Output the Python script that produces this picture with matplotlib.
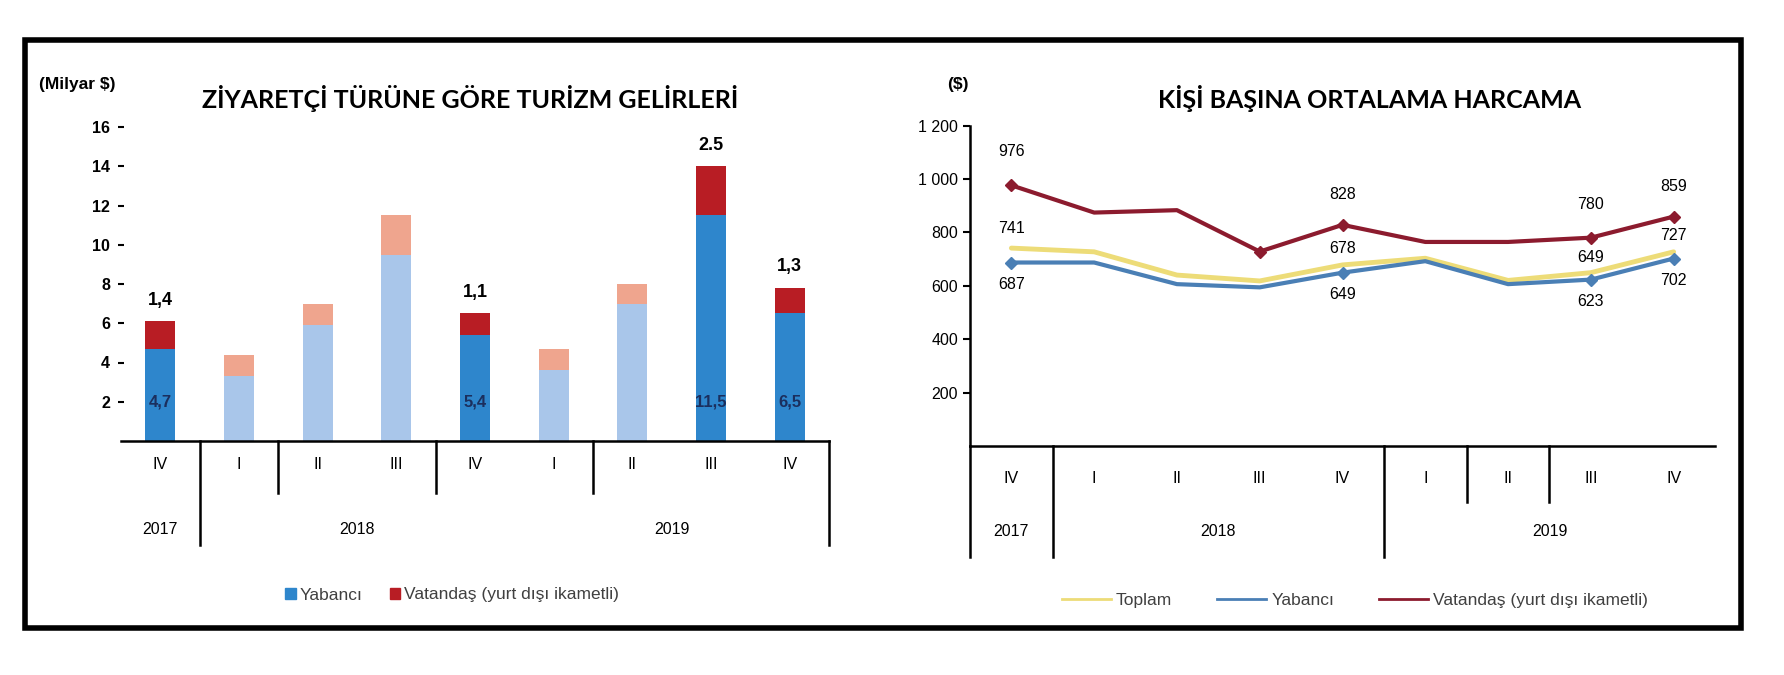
import matplotlib
matplotlib.use("Agg")
import matplotlib.pyplot as plt
from matplotlib.patches import Rectangle, Patch
from matplotlib.lines import Line2D

plt.rcParams['font.family'] = ['Liberation Sans', 'DejaVu Sans']

# ortak kategoriler
quarters = ["IV", "I", "II", "III", "IV", "I", "II", "III", "IV"]
years = ["2017", "2018", "2019"]
year_first = [0, 1, 5]
year_last = [0, 4, 8]

# sol grafik - milyar $
yabanci_gelir = [4.7, 3.3, 5.9, 9.5, 5.4, 3.6, 7.0, 11.5, 6.5]
vatandas_gelir = [1.4, 1.1, 1.1, 2.0, 1.1, 1.1, 1.0, 2.5, 1.3]
vurgu = [True, False, False, False, True, False, False, True, True]
ust_etiket = ["1,4", "", "", "", "1,1", "", "", "2.5", "1,3"]
ic_etiket = ["4,7", "", "", "", "5,4", "", "", "11,5", "6,5"]

# sag grafik - kisi basi $
toplam = [741, 727, 640, 618, 678, 703, 620, 649, 727]
yabanci = [687, 687, 606, 594, 649, 692, 606, 623, 702]
vatandas = [976, 874, 883, 728, 828, 764, 764, 780, 859]
etiket_idx = [0, 4, 7, 8]

W, H = 1784, 675
fig = plt.figure(figsize=(W / 100, H / 100), dpi=100)

def fx(px):
    return px / W

def fy(py):
    return 1 - py / H

# cerceve
fig.patches.append(Rectangle((fx(25), fy(628)), fx(1741) - fx(25), fy(40) - fy(628),
                             transform=fig.transFigure, fill=False, lw=4, ec='black'))

BLUE = '#2E86CC'
RED = '#B81D24'
LBLUE = '#A9C6EA'
LRED = '#EFA58E'

# ---------------- sol grafik
ax1 = fig.add_axes([fx(121), fy(441), fx(829) - fx(121), fy(127) - fy(441)])
x = list(range(len(quarters)))
c1 = [BLUE if v else LBLUE for v in vurgu]
c2 = [RED if v else LRED for v in vurgu]
ax1.bar(x, yabanci_gelir, width=0.38, color=c1)
ax1.bar(x, vatandas_gelir, width=0.38, bottom=yabanci_gelir, color=c2)
ax1.set_xlim(-0.5, 8.5)
ax1.set_ylim(0, 16)
ax1.set_yticks(range(2, 17, 2))
ax1.set_yticklabels([str(v) for v in range(2, 17, 2)], fontsize=11.5, fontweight='bold')
ax1.tick_params(axis='y', length=4, width=1.5, direction='inout', pad=6)
ax1.set_xticks([])
for s in ['top', 'right', 'left']:
    ax1.spines[s].set_visible(False)
ax1.spines['bottom'].set_linewidth(1.8)

for i in x:
    if ust_etiket[i]:
        ax1.annotate(ust_etiket[i], (i, yabanci_gelir[i] + vatandas_gelir[i]),
                     xytext=(0, 9), textcoords='offset points', ha='center', va='bottom',
                     fontsize=13, fontweight='bold')
    if ic_etiket[i]:
        ax1.text(i, 2.0, ic_etiket[i], ha='center', va='center', fontsize=12,
                 fontweight='bold', color='#1B2F5E')

tr1 = ax1.get_xaxis_transform()
for i, q in enumerate(quarters):
    ax1.text(i, -0.076, q, transform=tr1, ha='center', va='center', fontsize=11.5)
for y, a, b in zip(years, year_first, year_last):
    ax1.text((a + b) / 2, -0.283, y, transform=tr1, ha='center', va='center', fontsize=11.5)
for b, bot in [(0.5, -0.331), (1.5, -0.166), (3.5, -0.166), (5.5, -0.166), (8.5, -0.331)]:
    ax1.plot([b, b], [0, bot], transform=tr1, color='black', lw=1.8, clip_on=False)

fig.text(fx(470), fy(99), "ZİYARETÇİ TÜRÜNE GÖRE TURİZM GELİRLERİ", ha='center', va='center',
         fontsize=18, fontweight='bold', family=['Lato', 'DejaVu Sans'])
fig.text(fx(39), fy(84), "(Milyar $)", ha='left', va='center', fontsize=12.5, fontweight='bold')

fig.legend([Patch(color=BLUE), Patch(color=RED)], ["Yabancı", "Vatandaş (yurt dışı ikametli)"],
           loc='center', bbox_to_anchor=(fx(452), fy(595)), ncol=2, frameon=False,
           handlelength=0.6, handleheight=0.6, handletextpad=0.2, columnspacing=1.6,
           fontsize=12.5, labelcolor='#404040')

# ---------------- sag grafik
ax2 = fig.add_axes([fx(970), fy(446), fx(1715) - fx(970), fy(125.5) - fy(446)])
ax2.plot(x, toplam, color='#EDDC78', lw=3.5, solid_capstyle='round')
ax2.plot(x, yabanci, color='#4A7FB5', lw=3, marker='D', markersize=6, markevery=etiket_idx)
ax2.plot(x, vatandas, color='#8C1B2E', lw=3, marker='D', markersize=6, markevery=etiket_idx + [3])
ax2.set_xlim(-0.5, 8.5)
ax2.set_ylim(0, 1200)
ax2.set_yticks(range(200, 1201, 200))
ax2.set_yticklabels(["200", "400", "600", "800", "1 000", "1 200"], fontsize=11.5)
ax2.tick_params(axis='y', length=5, width=1.5, direction='out')
ax2.set_xticks([])
for s in ['top', 'right']:
    ax2.spines[s].set_visible(False)
ax2.spines['bottom'].set_linewidth(1.8)
ax2.spines['left'].set_linewidth(1.8)

ofs_red = {0: 24, 4: 22, 7: 24, 8: 22}
ofs_top = {0: 14, 4: 12, 7: 11, 8: 12}
for i in etiket_idx:
    ax2.annotate(str(vatandas[i]), (i, vatandas[i]), xytext=(0, ofs_red[i]), textcoords='offset points',
                 ha='center', va='center', fontsize=11.5)
    ax2.annotate(str(toplam[i]), (i, toplam[i]), xytext=(0, ofs_top[i]), textcoords='offset points',
                 ha='center', va='center', fontsize=11.5)
    ax2.annotate(str(yabanci[i]), (i, yabanci[i]), xytext=(0, -16), textcoords='offset points',
                 ha='center', va='center', fontsize=11.5)

tr2 = ax2.get_xaxis_transform()
for i, q in enumerate(quarters):
    ax2.text(i, -0.10, q, transform=tr2, ha='center', va='center', fontsize=11.5)
for y, a, b in zip(years, year_first, year_last):
    ax2.text((a + b) / 2, -0.268, y, transform=tr2, ha='center', va='center', fontsize=11.5)
for b, bot in [(-0.5, -0.346), (0.5, -0.346), (4.5, -0.346), (5.5, -0.175), (6.5, -0.175)]:
    ax2.plot([b, b], [0, bot], transform=tr2, color='black', lw=1.8, clip_on=False)

fig.text(fx(1370), fy(99), "KİŞİ BAŞINA ORTALAMA HARCAMA", ha='center', va='center',
         fontsize=18, fontweight='bold', family=['Lato', 'DejaVu Sans'])
fig.text(fx(947), fy(84), "($)", ha='left', va='center', fontsize=12.5, fontweight='bold')

fig.legend([Line2D([], [], color='#EDDC78', lw=2), Line2D([], [], color='#4A7FB5', lw=2),
            Line2D([], [], color='#8C1B2E', lw=2)],
           ["Toplam", "Yabancı", "Vatandaş (yurt dışı ikametli)"],
           loc='center', bbox_to_anchor=(fx(1355), fy(600)), ncol=3, frameon=False,
           handlelength=2.8, handletextpad=0.3, columnspacing=2.6, fontsize=12.5, labelcolor='#404040')

fig.savefig("out.png", dpi=100, facecolor='white')
